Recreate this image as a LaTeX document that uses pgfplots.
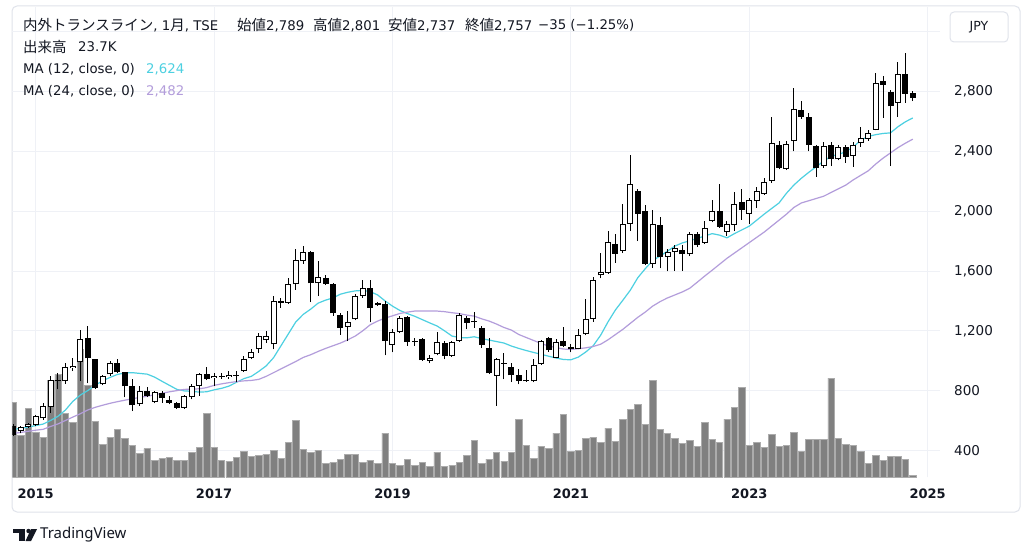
\documentclass[border=0pt]{standalone}
\usepackage{pgfplots}
\pgfplotsset{compat=1.18}
\usepackage{pgfplotstable}
\usepackage{fontspec}
\setmainfont{DejaVu Sans}
\newfontfamily\jpfont{Noto Sans CJK JP}
\newfontfamily\lat{DejaVu Sans}
\newfontfamily\logofont{Noto Sans}
\newcommand\J[1]{{\fontsize{14.5}{15}\jpfont #1}}
\definecolor{txt}{HTML}{131722}
\definecolor{gridc}{HTML}{EFF1F6}
\definecolor{framec}{HTML}{E0E3EB}
\definecolor{maA}{HTML}{4DD0E1}
\definecolor{maB}{HTML}{B39DDB}
\definecolor{volc}{HTML}{808080}

\pgfplotstableread{
m o h l c v
-3 563 575 495 505 900
-2 527 563 514 554 500
-1 558 585 549 574 828
0 567 640 560 627 540
1 614 715 605 694 480
2 688 900 650 868 1160
3 862 920 808 870 1236
4 862 985 845 955 768
5 948 1020 930 964 660
6 988 1204 863 1142 1536
7 1149 1231 848 1015 1100
8 1008 1010 810 815 668
9 841 905 835 897 388
10 908 997 900 982 476
11 982 1008 915 922 572
12 922 925 754 828 460
13 830 875 663 701 380
14 708 830 700 797 280
15 797 826 755 763 340
16 723 800 715 790 200
17 781 797 719 750 220
18 736 763 708 719 240
19 719 725 680 685 200
20 685 770 680 763 200
21 754 841 741 828 300
22 830 920 767 908 360
23 908 960 870 875 760
24 883 920 830 897 352
25 893 920 880 897 200
26 888 930 878 902 192
27 898 930 855 905 232
28 930 1030 925 1013 312
29 1015 1080 1010 1055 248
30 1075 1187 1053 1162 264
31 1138 1198 1120 1164 276
32 1109 1430 1075 1398 324
33 1398 1420 1354 1387 228
34 1387 1554 1380 1510 420
35 1510 1750 1476 1672 684
36 1666 1770 1650 1724 336
37 1724 1735 1392 1517 300
38 1517 1666 1432 1557 324
39 1552 1570 1505 1515 168
40 1515 1520 1300 1316 180
41 1309 1320 1175 1220 216
42 1227 1332 1131 1258 276
43 1276 1445 1270 1432 276
44 1432 1543 1420 1488 180
45 1488 1543 1256 1354 204
46 1383 1393 1367 1374 168
47 1376 1398 1035 1131 528
48 1104 1209 1056 1191 168
49 1191 1300 1185 1287 144
50 1292 1300 1100 1124 216
51 1127 1153 1101 1131 144
52 1147 1150 1000 1004 180
53 997 1035 982 1020 132
54 1042 1191 1035 1124 300
55 1120 1130 1008 1031 132
56 1031 1135 1025 1127 144
57 1131 1321 1125 1309 180
58 1287 1298 1209 1254 264
59 1262 1325 1220 1256 444
60 1220 1231 1085 1107 168
61 1082 1150 910 915 216
62 897 1020 697 1013 300
63 980 1049 875 985 192
64 960 987 856 902 300
65 903 942 841 863 696
66 865 940 858 862 384
67 861 1008 855 971 228
68 975 1140 970 1135 372
69 1151 1160 1060 1069 348
70 1020 1142 1015 1124 528
71 1131 1227 1090 1098 756
72 1093 1115 1056 1075 312
73 1080 1209 1075 1169 324
74 1176 1410 1170 1280 468
75 1280 1560 1260 1540 480
76 1570 1722 1550 1593 420
77 1588 1867 1580 1793 588
78 1782 1848 1654 1715 432
79 1733 2045 1720 1916 696
80 1916 2379 1867 2183 816
81 2138 2150 1800 1982 876
82 2000 2040 1640 1648 636
83 1648 2010 1621 1916 1164
84 1906 1961 1617 1694 576
85 1694 1750 1598 1726 528
86 1728 1777 1600 1755 468
87 1742 1777 1600 1711 408
88 1711 1862 1700 1849 444
89 1849 1862 1760 1773 372
90 1788 1933 1780 1888 660
91 1933 2078 1925 2000 456
92 2000 2185 1890 1895 420
93 1860 1935 1835 1916 696
94 1911 2127 1867 2049 840
95 2062 2149 1944 2011 1080
96 1984 2090 1917 2073 384
97 2067 2162 2022 2138 420
98 2118 2222 2110 2194 360
99 2201 2631 2190 2457 516
100 2446 2470 2280 2290 372
101 2285 2470 2275 2452 384
102 2468 2825 2401 2684 540
103 2680 2736 2620 2631 312
104 2631 2658 2401 2446 456
105 2434 2445 2230 2290 456
106 2301 2462 2290 2439 456
107 2446 2460 2301 2346 1188
108 2346 2440 2340 2430 468
109 2430 2445 2323 2363 396
110 2368 2460 2297 2446 384
111 2457 2564 2430 2491 312
112 2484 2540 2470 2524 168
113 2546 2925 2540 2858 264
114 2869 2907 2624 2847 204
115 2795 2810 2301 2702 252
116 2724 2996 2633 2920 252
117 2920 3059 2726 2787 216
118 2789 2801 2737 2757 24
}\candles

\pgfplotstableread{
m a b
-3 540 514
-2 548 520
-1 556 528
0 566 535
1 576 541
2 600 560
3 628 577
4 670 600
5 728 623
6 770 645
7 800 670
8 835 688
9 866 702
10 888 715
11 908 726
12 918 736
13 920 745
14 915 755
15 910 762
16 890 772
17 862 782
18 835 792
19 808 800
20 798 808
21 795 810
22 790 812
23 792 820
24 805 835
25 815 845
26 830 853
27 855 860
28 880 865
29 895 868
30 928 875
31 965 895
32 1020 920
33 1100 945
34 1180 970
35 1260 995
36 1310 1022
37 1345 1040
38 1385 1062
39 1405 1082
40 1420 1100
41 1445 1118
42 1458 1140
43 1467 1165
44 1470 1200
45 1462 1240
46 1440 1265
47 1400 1285
48 1365 1300
49 1336 1316
50 1315 1325
51 1297 1332
52 1275 1333
53 1253 1333
54 1232 1332
55 1200 1328
56 1165 1321
57 1155 1315
58 1153 1305
59 1160 1298
60 1148 1280
61 1138 1265
62 1128 1245
63 1118 1222
64 1098 1205
65 1082 1175
66 1068 1155
67 1055 1135
68 1043 1115
69 1030 1098
70 1018 1088
71 1008 1078
72 1006 1075
73 1024 1080
74 1058 1086
75 1100 1095
76 1170 1110
77 1260 1140
78 1340 1175
79 1405 1210
80 1472 1250
81 1555 1290
82 1615 1325
83 1670 1365
84 1700 1395
85 1733 1420
86 1767 1440
87 1788 1460
88 1802 1485
89 1818 1525
90 1834 1566
91 1850 1605
92 1840 1645
93 1822 1685
94 1850 1720
95 1875 1755
96 1900 1790
97 1940 1825
98 1980 1860
99 2018 1900
100 2055 1940
101 2120 1980
102 2175 2025
103 2220 2055
104 2260 2070
105 2297 2085
106 2335 2100
107 2368 2125
108 2380 2150
109 2398 2175
110 2430 2210
111 2475 2240
112 2500 2270
113 2512 2315
114 2520 2355
115 2524 2390
116 2565 2425
117 2598 2455
118 2624 2482
}\mas

\pgfplotsset{
  tvaxis/.style={at={(12.5pt,80pt)}, anchor=south west, scale only axis,
    width=927.5pt, height=470pt, xmin=-3.12, xmax=121.66},
  candle/.style n args={2}{draw=none, mark=none, forget plot,
    error bars/.cd, y dir=plus, y explicit, error mark=none,
    error bar style={line width=#1, draw=#2}},
}

\begin{document}
\begin{tikzpicture}
\begin{scope}[x=1pt,y=1pt]
\path[use as bounding box] (0,0) rectangle (1024,557);
\fill[white] (0,0) rectangle (1024,557);
\draw[framec, line width=1pt, rounded corners=5pt] (12,45) rectangle (1020,551);
\end{scope}

% grid and tick labels
\begin{axis}[tvaxis, ymin=222, ymax=3366,
  axis line style={draw=none}, tick style={draw=none},
  xtick={0,24,48,72,96,120}, xticklabels={2015,2017,2019,2021,2023,2025},
  ytick={400,800,...,3200},
  yticklabels={400,800,{1,200},{1,600},{2,000},{2,400},{2,800},{}},
  xmajorgrids, ymajorgrids, major grid style={gridc, line width=1pt},
  yticklabel pos=right,
  yticklabel style={anchor=west, inner sep=0pt, xshift=14pt,
    font=\fontsize{13.5}{15}\lat, text=txt},
  xticklabel style={anchor=center, inner sep=0pt, yshift=-17pt,
    font=\fontsize{13}{15}\lat\bfseries, text=txt},
]
\addplot[draw=none, forget plot] coordinates {(0,1000)};
\end{axis}

% volume
\begin{axis}[tvaxis, ymin=0, ymax=5640, hide axis]
\addplot[ybar, bar width=6.4pt, fill=volc, draw=volc!65!white, line width=0.5pt]
  table[x=m, y=v]{\candles};
\end{axis}

% price
\begin{axis}[tvaxis, ymin=222, ymax=3366, hide axis]
\addplot[maA, line width=1.2pt] table[x=m, y=a]{\mas};
\addplot[maB, line width=1.2pt] table[x=m, y=b]{\mas};
% wicks
\addplot[candle={1pt}{black}]
  table[x=m, y=l, y error expr={\thisrow{h}-\thisrow{l}}]{\candles};
% body (outline / black fill)
\addplot[candle={6pt}{black}]
  table[x=m, y expr={min(\thisrow{o},\thisrow{c})},
        y error expr={max(abs(\thisrow{c}-\thisrow{o}),6.7)}]{\candles};
% white inside of rising candles
\addplot[restrict expr to domain={\thisrow{c}-\thisrow{o}}{13.5:100000},
  candle={4pt}{white}]
  table[x=m, y expr={\thisrow{o}+6.69},
        y error expr={\thisrow{c}-\thisrow{o}-13.38}]{\candles};
\end{axis}

\begin{scope}[x=1pt,y=1pt]
% header
\begin{scope}[every node/.style={anchor=west, inner sep=0pt, text=txt,
    font=\fontsize{13.3}{15}\lat}]
\node at (23,532) {\J{内外トランスライン}, 1\J{月}, TSE};
\node at (237,532) {\J{始値}2,789};
\node at (313,532) {\J{高値}2,801};
\node at (388,532) {\J{安値}2,737};
\node at (465,532) {\J{終値}2,757};
\node at (538,532) {−35 (−1.25\%)};
\node at (23,510) {\J{出来高}};
\node at (78,510) {23.7K};
\node at (23,488) {MA (12, close, 0)};
\node[text=maA] at (146,488) {2,624};
\node at (23,466) {MA (24, close, 0)};
\node[text=maB] at (146,466) {2,482};
\end{scope}

% currency box
\draw[framec, fill=white, line width=1pt, rounded corners=4pt] (950,515) rectangle (1008,545);
\node[text=txt, font=\fontsize{12.5}{15}\lat] at (979,530) {JPY};

% TradingView logo
\fill[txt] (13,28) rectangle (25,24);
\fill[txt] (19,24) rectangle (25,16);
\fill[txt] (28.5,26) circle (2.2);
\fill[txt] (31,28) -- (37,28) -- (31,16) -- (25.5,16) -- cycle;
\node[anchor=west, inner sep=0pt, text=txt, font=\fontsize{15}{17}\logofont\bfseries] at (40,22) {TradingView};
\end{scope}
\end{tikzpicture}
\end{document}
